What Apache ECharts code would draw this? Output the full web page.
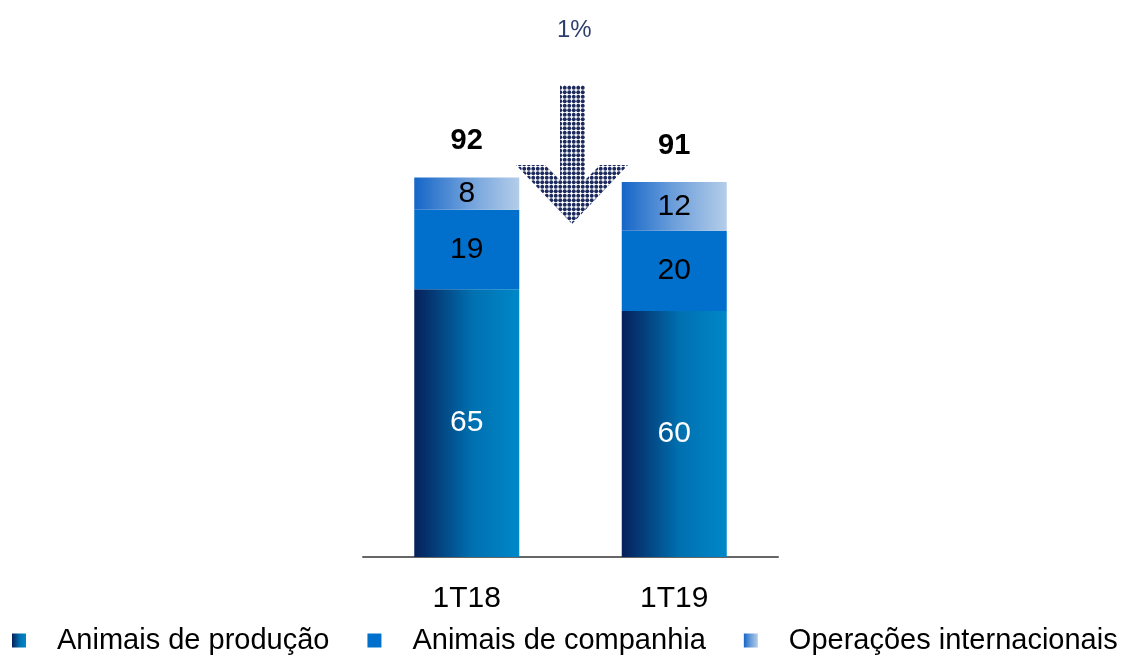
<!DOCTYPE html>
<html><head><meta charset="utf-8">
<style>html,body{margin:0;padding:0;background:#fff}#c{width:1128px;height:657px}</style>
<script src="https://cdn.jsdelivr.net/npm/echarts@6/dist/echarts.min.js"></script>
</head><body><div id="c"></div>
<script>
const categories = ['1T18', '1T19'];
// segment heights; labels show rounded values
const producao = [65.0, 59.7];
const companhia = [19.3, 19.5];
const internacionais = [7.8, 11.8];
const totals = [92, 91];
const changeLabel = '1%';

const FONT = 'Liberation Sans, Arial, sans-serif';
const chart = echarts.init(document.getElementById('c'));

// dot pattern for arrow (2x2 dots in a 9px tile -> 4.5px spacing)
const pc = document.createElement('canvas');
pc.width = 9; pc.height = 9;
const pctx = pc.getContext('2d');
pctx.fillStyle = '#1c2a5e';
[[2.25, 2.25], [6.75, 2.25], [2.25, 6.75], [6.75, 6.75]].forEach(([x, y]) => {
  pctx.beginPath(); pctx.arc(x, y, 1.95, 0, Math.PI * 2); pctx.fill();
});

const gradBottom = new echarts.graphic.LinearGradient(0, 0, 1, 0, [
  {offset: 0, color: '#06205a'}, {offset: 0.55, color: '#0070b0'}, {offset: 1, color: '#0088c8'}]);
const gradTop = new echarts.graphic.LinearGradient(0, 0, 1, 0, [
  {offset: 0, color: '#1566c8'}, {offset: 0.5, color: '#6d9fdb'}, {offset: 1, color: '#b4cde9'}]);

const lbl = (color) => ({show: true, position: 'inside', color: color, fontSize: 30, fontFamily: FONT,
  formatter: (p) => Math.round(p.value)});

chart.setOption({
  animation: false,
  grid: {left: 363, right: 350, top: 145, bottom: 100},
  legend: {
    data: ['Animais de produção', 'Animais de companhia', 'Operações internacionais'],
    top: 626, left: 12, padding: 0, itemWidth: 14, itemHeight: 14, itemGap: 38,
    icon: 'rect',
    textStyle: {fontSize: 29, fontFamily: FONT, color: '#000', padding: [0, 0, 0, 26]}
  },
  xAxis: {
    type: 'category', data: categories,
    axisLine: {lineStyle: {color: '#666', width: 2}},
    axisTick: {show: false},
    axisLabel: {fontSize: 30, fontFamily: FONT, color: '#000', margin: 27}
  },
  yAxis: {type: 'value', min: 0, max: 100, show: false, splitLine: {show: false}},
  series: [
    {name: 'Animais de produção', type: 'bar', stack: 't', data: producao, barWidth: 105,
      itemStyle: {color: gradBottom}, label: lbl('#fff')},
    {name: 'Animais de companhia', type: 'bar', stack: 't', data: companhia,
      itemStyle: {color: '#0070cc'}, label: lbl('#000')},
    {name: 'Operações internacionais', type: 'bar', stack: 't', data: internacionais,
      itemStyle: {color: gradTop}, label: lbl('#000')},
    {name: 'total', type: 'bar', stack: 't', data: totals.map(() => 0),
      itemStyle: {color: 'transparent'},
      label: {show: true, position: 'top', distance: 22, fontSize: 29, fontWeight: 'bold', fontFamily: FONT, color: '#000',
        formatter: (p) => totals[p.dataIndex]}}
  ],
  graphic: [
    {type: 'text', left: 557, top: 18, style: {text: changeLabel, fontSize: 24, fontFamily: FONT, fill: '#2e3f6e'}},
    {type: 'polygon', shape: {points: [[560, 85], [585, 85], [585, 180], [600, 165], [628, 165], [572, 224],
        [516, 165], [545, 165], [560, 180]]},
      style: {fill: {image: pc, repeat: 'repeat'}}}
  ]
});
</script></body></html>
